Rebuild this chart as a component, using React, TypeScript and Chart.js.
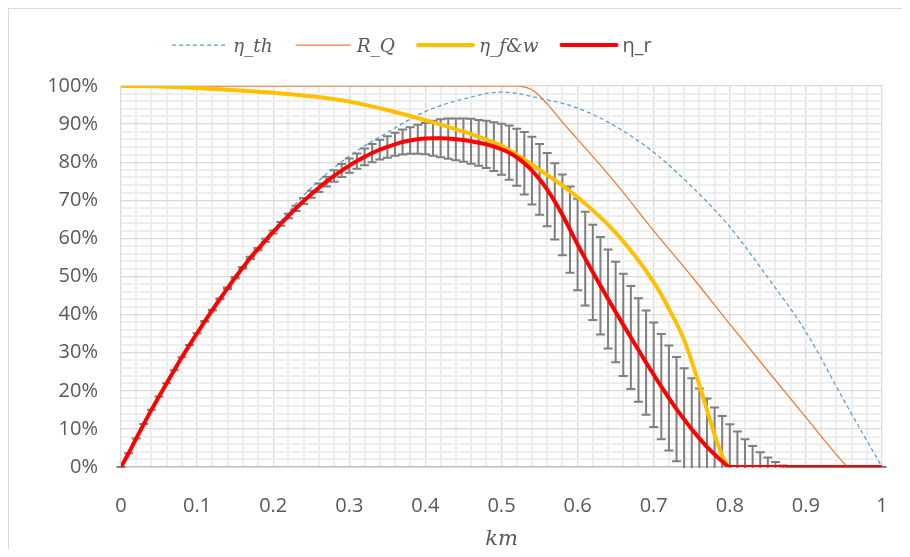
import React, { useEffect, useRef } from 'react';
import { Chart, registerables } from 'chart.js';

Chart.register(...registerables);

// x positions (km) of the η_r series and its error bars
const kmValues = [
  0, 0.01, 0.02, 0.03, 0.04, 0.05, 0.06, 0.07, 0.08, 0.09,
  0.1, 0.11, 0.12, 0.13, 0.14, 0.15, 0.16, 0.17, 0.18, 0.19,
  0.2, 0.21, 0.22, 0.23, 0.24, 0.25, 0.26, 0.27, 0.28, 0.29,
  0.3, 0.31, 0.32, 0.33, 0.34, 0.35, 0.36, 0.37, 0.38, 0.39,
  0.4, 0.41, 0.42, 0.43, 0.44, 0.45, 0.46, 0.47, 0.48, 0.49,
  0.5, 0.51, 0.52, 0.53, 0.54, 0.55, 0.56, 0.57, 0.58, 0.59,
  0.6, 0.61, 0.62, 0.63, 0.64, 0.65, 0.66, 0.67, 0.68, 0.69,
  0.7, 0.71, 0.72, 0.73, 0.74, 0.75, 0.76, 0.77, 0.78, 0.79,
  0.8, 0.81, 0.82, 0.83, 0.84, 0.85, 0.86, 0.87, 0.88, 0.89,
  0.9, 0.91, 0.92, 0.93, 0.94, 0.95, 0.96, 0.97, 0.98, 0.99, 1,
];

// η_r (%)
const etaR = [
  0, 3.6, 7.5, 11.3, 15.0, 18.5, 22.0, 25.4, 28.8, 32.0,
  35.1, 38.2, 41.2, 44.1, 46.9, 49.7, 52.3, 54.9, 57.2, 59.5,
  61.7, 63.8, 65.9, 67.9, 69.8, 71.6, 73.3, 74.9, 76.4, 77.8,
  79.1, 80.3, 81.4, 82.4, 83.3, 84.0, 84.7, 85.3, 85.7, 86.0,
  86.2, 86.3, 86.3, 86.2, 86.0, 85.8, 85.5, 85.1, 84.7, 84.1,
  83.4, 82.5, 81.3, 79.7, 77.8, 75.5, 72.8, 69.7, 66.2, 62.3,
  58.4, 54.7, 51.1, 47.6, 44.1, 40.7, 37.3, 34.0, 30.7, 27.4,
  24.2, 21.1, 18.1, 15.2, 12.5, 9.9, 7.5, 5.3, 3.3, 1.5,
  0, 0, 0, 0, 0, 0, 0, 0, 0, 0,
  0, 0, 0, 0, 0, 0, 0, 0, 0, 0, 0,
];

// ± error of η_r (%)
const etaRErr = [
  0, 0, 0, 0, 0, 0, 0, 0, 0, 0,
  0, 0.1, 0.1, 0.1, 0.2, 0.2, 0.2, 0.3, 0.3, 0.4,
  0.4, 0.5, 0.6, 0.7, 0.8, 0.9, 1.1, 1.3, 1.5, 1.7,
  1.9, 2.0, 2.2, 2.4, 2.6, 2.8, 3.0, 3.3, 3.5, 3.8,
  4.1, 4.6, 5.0, 5.3, 5.5, 5.7, 5.9, 6.0, 6.2, 6.4,
  6.7, 7.1, 7.5, 8.2, 8.9, 9.3, 9.6, 10.0, 10.6, 11.3,
  12.0, 12.3, 12.5, 12.8, 13.0, 13.2, 13.4, 13.5, 13.6, 13.7,
  13.7, 13.8, 13.8, 13.7, 13.4, 13.4, 13.1, 12.7, 12.3, 11.9,
  11.2, 9.3, 7.3, 5.5, 3.9, 2.5, 1.3, 0.4, 0, 0,
  0, 0, 0, 0, 0, 0, 0, 0, 0, 0, 0,
];

// η_th
const thKm = [0, 0.05, 0.1, 0.15, 0.2, 0.25, 0.3, 0.35, 0.4, 0.45, 0.5, 0.55, 0.6, 0.65, 0.7, 0.75, 0.8, 0.85, 0.9, 0.95, 1];
const etaTh = [0, 18.2, 35.3, 49.9, 62.2, 73.3, 81.6, 87.8, 93.3, 96.6, 98.4, 96.8, 94.2, 89.4, 82.6, 73.6, 63.0, 49.7, 35.5, 17.5, 0];

// R_Q
const rqKm = [0, 0.5, 0.52, 0.54, 0.56, 0.58, 0.6, 0.65, 0.7, 0.75, 0.8, 0.85, 0.9, 0.95, 0.955, 1];
const rQ = [100, 100, 100, 99, 95.3, 90.5, 86, 74.5, 62, 50, 37.5, 25.2, 13, 1, 0, 0];

// η_f&w
const fwKm = [0, 0.05, 0.1, 0.15, 0.2, 0.25, 0.3, 0.35, 0.4, 0.45, 0.5, 0.55, 0.6, 0.65, 0.7, 0.72, 0.74, 0.76, 0.78, 0.79, 0.8, 0.9, 1];
const etaFW = [100, 99.9, 99.5, 98.9, 98.2, 97.3, 95.9, 93.7, 91.0, 88.0, 84.3, 78.0, 70.8, 61.5, 48.5, 41.5, 33.3, 21.5, 8.5, 3.0, 0, 0, 0];

const xTickLabels = ['0', '0.1', '0.2', '0.3', '0.4', '0.5', '0.6', '0.7', '0.8', '0.9', '1'];
const yTickLabels = ['0%', '10%', '20%', '30%', '40%', '50%', '60%', '70%', '80%', '90%', '100%'];
const seriesLabels = ['η_th', 'R_Q', 'η_f&w', 'η_r'];
const xAxisTitle = 'km';

const TEXT_COLOR = '#595959';
const MAJOR_GRID = '#d9d9d9';
const MINOR_GRID = '#eeeeee';

const toPoints = (xs: number[], ys: number[]) => xs.map((x, i) => ({ x, y: ys[i] }));

const errorBarsPlugin = {
  id: 'errorBars',
  beforeDatasetsDraw(chart: any) {
    const { ctx, chartArea, scales } = chart;
    const xs = scales.x;
    const ys = scales.y;
    ctx.save();
    ctx.beginPath();
    ctx.rect(chartArea.left - 5, chartArea.top, chartArea.right - chartArea.left + 10, chartArea.bottom - chartArea.top + 1);
    ctx.clip();
    ctx.strokeStyle = '#7f7f7f';
    ctx.lineWidth = 2;
    const half = 4.5;
    for (let i = 0; i < kmValues.length; i++) {
      const px = xs.getPixelForValue(kmValues[i]);
      const top = ys.getPixelForValue(etaR[i] + etaRErr[i]);
      const bot = ys.getPixelForValue(etaR[i] - etaRErr[i]);
      ctx.beginPath();
      ctx.moveTo(px, top);
      ctx.lineTo(px, bot);
      ctx.moveTo(px - half, top);
      ctx.lineTo(px + half, top);
      ctx.moveTo(px - half, bot);
      ctx.lineTo(px + half, bot);
      ctx.stroke();
    }
    ctx.restore();
  },
};

const legendPlugin = {
  id: 'customLegend',
  afterDraw(chart: any) {
    const { ctx, chartArea } = chart;
    ctx.save();
    let xPos = 163;
    const lineY = 36;
    const textY = 43;
    chart.data.datasets.forEach((ds: any, i: number) => {
      ctx.beginPath();
      ctx.strokeStyle = ds.borderColor;
      ctx.lineWidth = ds.borderWidth;
      ctx.lineCap = ds.borderWidth > 2 ? 'round' : 'butt';
      ctx.setLineDash(ds.borderDash || []);
      ctx.moveTo(xPos, lineY);
      ctx.lineTo(xPos + 55, lineY);
      ctx.stroke();
      ctx.setLineDash([]);
      xPos += 61;
      ctx.font = i < 3 ? 'italic 18.5px "DejaVu Serif"' : '20px "Open Sans"';
      ctx.fillStyle = TEXT_COLOR;
      ctx.textBaseline = 'alphabetic';
      ctx.textAlign = 'left';
      ctx.fillText(ds.label, xPos, textY);
      xPos += ctx.measureText(ds.label).width + 23;
    });
    // x axis title
    ctx.font = 'italic 21px "DejaVu Serif"';
    ctx.fillStyle = TEXT_COLOR;
    ctx.textAlign = 'center';
    ctx.textBaseline = 'alphabetic';
    ctx.fillText(xAxisTitle, (chartArea.left + chartArea.right) / 2, chartArea.bottom + 78);
    ctx.restore();
  },
};

const isMajorX = (v: number) => Math.round(v * 100) % 10 === 0;
const isMajorY = (v: number) => Math.round(v) % 10 === 0;

export default function App() {
  const canvasRef = useRef<HTMLCanvasElement | null>(null);

  useEffect(() => {
    if (!canvasRef.current) return;
    Chart.defaults.font.family = '"Open Sans"';
    const chart = new Chart(canvasRef.current, {
      type: 'line',
      data: {
        datasets: [
          {
            label: seriesLabels[0],
            data: toPoints(thKm, etaTh),
            borderColor: '#5b9bd5',
            borderWidth: 1.25,
            borderDash: [4, 3],
            pointRadius: 0,
            cubicInterpolationMode: 'monotone',
            order: 4,
          },
          {
            label: seriesLabels[1],
            data: toPoints(rqKm, rQ),
            borderColor: '#ed7d31',
            borderWidth: 1.25,
            pointRadius: 0,
            cubicInterpolationMode: 'monotone',
            order: 3,
          },
          {
            label: seriesLabels[2],
            data: toPoints(fwKm, etaFW),
            borderColor: '#ffc000',
            borderWidth: 4,
            pointRadius: 0,
            cubicInterpolationMode: 'monotone',
            order: 2,
          },
          {
            label: seriesLabels[3],
            data: toPoints(kmValues, etaR),
            borderColor: '#ff0000',
            borderWidth: 4,
            pointRadius: 0,
            cubicInterpolationMode: 'monotone',
            order: 1,
          },
        ],
      },
      options: {
        responsive: false,
        animation: false,
        devicePixelRatio: 1,
        layout: { padding: { top: 77, right: 20, left: 0, bottom: 0 } },
        plugins: {
          legend: { display: false },
          tooltip: { enabled: false },
        },
        scales: {
          x: {
            type: 'linear',
            min: 0,
            max: 1,
            afterFit: (scale: any) => {
              scale.height = 82;
              scale.paddingLeft = 0;
              scale.paddingRight = 0;
            },
            ticks: {
              stepSize: 0.02,
              autoSkip: false,
              maxRotation: 0,
              padding: 27,
              color: TEXT_COLOR,
              font: { size: 20, family: '"Open Sans"' },
              callback: (v: any) => (isMajorX(Number(v)) ? xTickLabels[Math.round(Number(v) * 10)] : ''),
            },
            grid: {
              drawTicks: false,
              color: (c: any) => (c.tick && isMajorX(c.tick.value) ? MAJOR_GRID : MINOR_GRID),
              lineWidth: (c: any) => (c.tick && isMajorX(c.tick.value) ? 1.3 : 2),
            },
            border: { display: true, color: '#bfbfbf', width: 1.5 },
          },
          y: {
            type: 'linear',
            min: 0,
            max: 100,
            afterFit: (scale: any) => {
              scale.width = 112;
              scale.paddingTop = 0;
              scale.paddingBottom = 0;
            },
            ticks: {
              stepSize: 2,
              autoSkip: false,
              padding: 23,
              color: TEXT_COLOR,
              font: { size: 20, family: '"Open Sans"' },
              callback: (v: any) => (isMajorY(Number(v)) ? yTickLabels[Math.round(Number(v) / 10)] : ''),
            },
            grid: {
              drawTicks: false,
              color: (c: any) => (c.tick && isMajorY(c.tick.value) ? MAJOR_GRID : MINOR_GRID),
              lineWidth: (c: any) => (c.tick && isMajorY(c.tick.value) ? 1.3 : 2),
            },
            border: { display: false },
          },
        },
      },
      plugins: [errorBarsPlugin, legendPlugin],
    } as any);
    return () => chart.destroy();
  }, []);

  return (
    <div
      style={{
        width: 893,
        height: 540,
        borderLeft: '1px solid #d9d9d9',
        borderTop: '1px solid #d9d9d9',
        background: '#ffffff',
      }}
    >
      <canvas ref={canvasRef} width={893} height={540} style={{ display: 'block' }} />
    </div>
  );
}
